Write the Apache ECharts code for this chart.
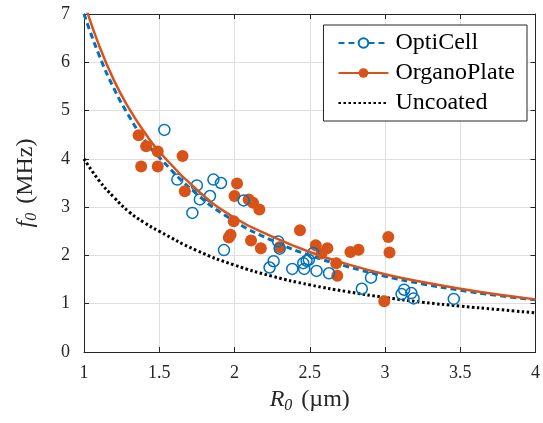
<!DOCTYPE html>
<html>
<head>
<meta charset="utf-8">
<script src="https://cdn.jsdelivr.net/npm/echarts@6/dist/echarts.min.js"></script>
<style>
  html, body { margin: 0; padding: 0; background: #fff; }
  #chart { width: 543px; height: 423px; }
</style>
</head>
<body>
<div id="chart"></div>
<script>
// fitted curves at these radii
const curveR = [1, 1.1, 1.2, 1.3, 1.4, 1.5, 1.75, 2, 2.25, 2.5, 2.75, 3, 3.25, 3.5, 3.75, 4];
const optiFit = [7.0, 6.15, 5.45, 4.88, 4.4, 4.03, 3.27, 2.71, 2.31, 2.0, 1.77, 1.57, 1.41, 1.28, 1.17, 1.08];
const organoFit = [7.25, 6.35, 5.62, 5.04, 4.56, 4.15, 3.36, 2.78, 2.39, 2.07, 1.82, 1.61, 1.45, 1.31, 1.19, 1.09];
const uncoated = [4.0, 3.55, 3.2, 2.9, 2.68, 2.5, 2.1, 1.8, 1.57, 1.39, 1.25, 1.13, 1.03, 0.95, 0.88, 0.81];

// measured points [R0, f0]
const optiPts = [
  [1.534, 4.60], [1.62, 3.57], [1.75, 3.45], [1.86, 3.57], [1.91, 3.50], [1.837, 3.23],
  [1.77, 3.16], [1.72, 2.88], [1.93, 2.11], [2.061, 3.14], [2.29, 2.29], [2.30, 2.14],
  [2.26, 1.88], [2.233, 1.75], [2.384, 1.72], [2.457, 1.84], [2.463, 1.72], [2.479, 1.89],
  [2.494, 1.91], [2.523, 2.05], [2.545, 1.68], [2.628, 1.63], [2.907, 1.54], [2.846, 1.31],
  [3.127, 1.29], [3.11, 1.20], [3.175, 1.22], [3.19, 1.11], [3.457, 1.10]
];
const organoPts = [
  [1.363, 4.49], [1.413, 4.26], [1.49, 4.15], [1.655, 4.06], [1.38, 3.84], [1.49, 3.84],
  [1.67, 3.33], [2.017, 3.49], [2.0, 3.23], [1.995, 2.71], [2.094, 3.16], [2.123, 3.09],
  [2.165, 2.95], [1.974, 2.43], [1.962, 2.37], [2.11, 2.31], [2.175, 2.15], [2.30, 2.17],
  [2.435, 2.52], [2.54, 2.21], [2.617, 2.15], [2.578, 2.04], [2.676, 1.84], [2.683, 1.58],
  [2.77, 2.07], [2.824, 2.12], [3.022, 2.38], [3.03, 2.06], [2.995, 1.05]
];

const blue = '#0072BD';
const orange = '#D95319';
const font = 'Liberation Serif';

const pair = (xs, ys) => xs.map((x, i) => [x, ys[i]]);

const chart = echarts.init(document.getElementById('chart'));

const frameAxis = {
  axisLine: { show: true, onZero: false, lineStyle: { color: '#262626', width: 1 } },
  axisTick: { show: true, inside: true, length: 5, lineStyle: { color: '#262626' } },
  axisLabel: { show: false },
  splitLine: { show: false }
};

const titleStyle = {
  fontFamily: font, fontSize: 24, color: '#262626',
  rich: {
    i: { fontFamily: font, fontSize: 24, fontStyle: 'italic', color: '#262626' },
    s: { fontFamily: font, fontSize: 16, fontStyle: 'italic', color: '#262626', padding: [12, 3, 0, 0] }
  }
};

chart.setOption({
  animation: false,
  textStyle: { fontFamily: font },
  grid: { left: 84, right: 4, top: 14, bottom: 71 },
  legend: {
    right: 16, top: 25,
    orient: 'vertical',
    data: [
      { name: 'OptiCell' },
      { name: 'OrganoPlate' },
      { name: 'Uncoated', itemStyle: { color: 'rgba(0,0,0,0)', borderWidth: 0 } }
    ],
    backgroundColor: '#fff',
    borderColor: '#262626',
    borderWidth: 1,
    padding: [6, 12, 6, 14],
    itemGap: 6,
    itemWidth: 50,
    itemHeight: 12,
    textStyle: { fontFamily: font, fontSize: 24, color: '#000', padding: [0, 0, 0, 2] }
  },
  xAxis: [
    {
      type: 'value', min: 1, max: 4, interval: 0.5,
      name: '{i|R}{s|0} (µm)',
      nameLocation: 'middle', nameGap: 34,
      nameTextStyle: titleStyle,
      axisLine: { show: true, onZero: false, lineStyle: { color: '#262626' } },
      axisTick: { show: true, inside: true, length: 5, lineStyle: { color: '#262626' } },
      axisLabel: { fontFamily: font, fontSize: 18, color: '#262626', margin: 12 },
      splitLine: { show: true, lineStyle: { color: '#dfdfdf', width: 1 } }
    },
    Object.assign({ type: 'value', min: 1, max: 4, interval: 0.5, position: 'top' }, frameAxis)
  ],
  yAxis: [
    {
      type: 'value', min: 0, max: 7, interval: 1,
      name: '{i|f}{s|0} (MHz)',
      nameLocation: 'middle', nameGap: 44, nameRotate: 90,
      nameTextStyle: titleStyle,
      axisLine: { show: true, onZero: false, lineStyle: { color: '#262626' } },
      axisTick: { show: true, inside: true, length: 5, lineStyle: { color: '#262626' } },
      axisLabel: { fontFamily: font, fontSize: 18, color: '#262626', margin: 14 },
      splitLine: { show: true, lineStyle: { color: '#dfdfdf', width: 1 } }
    },
    Object.assign({ type: 'value', min: 0, max: 7, interval: 1, position: 'right' }, frameAxis)
  ],
  series: [
    {
      name: 'OptiCell', type: 'line', data: pair(curveR, optiFit),
      smooth: true, showSymbol: false, symbol: 'emptyCircle',
      itemStyle: { color: blue },
      lineStyle: { color: blue, width: 3, type: [6, 4] },
      z: 2
    },
    {
      name: 'OptiCell', type: 'scatter', data: optiPts,
      symbol: 'circle', symbolSize: 11,
      itemStyle: { color: 'rgba(0,0,0,0)', borderColor: blue, borderWidth: 1.5, opacity: 1 },
      z: 4
    },
    {
      name: 'OrganoPlate', type: 'line', data: pair(curveR, organoFit),
      smooth: true, showSymbol: false, symbol: 'circle',
      itemStyle: { color: orange },
      lineStyle: { color: orange, width: 2.5 },
      z: 5
    },
    {
      name: 'OrganoPlate', type: 'scatter', data: organoPts,
      symbol: 'circle', symbolSize: 12,
      itemStyle: { color: orange, opacity: 1 },
      z: 3
    },
    {
      name: 'Uncoated', type: 'line', data: pair(curveR, uncoated),
      smooth: true, showSymbol: false, symbol: 'none',
      itemStyle: { color: '#000' },
      lineStyle: { color: '#000', width: 3, type: [2.5, 2.5] },
      z: 3
    }
  ]
});
</script>
</body>
</html>
